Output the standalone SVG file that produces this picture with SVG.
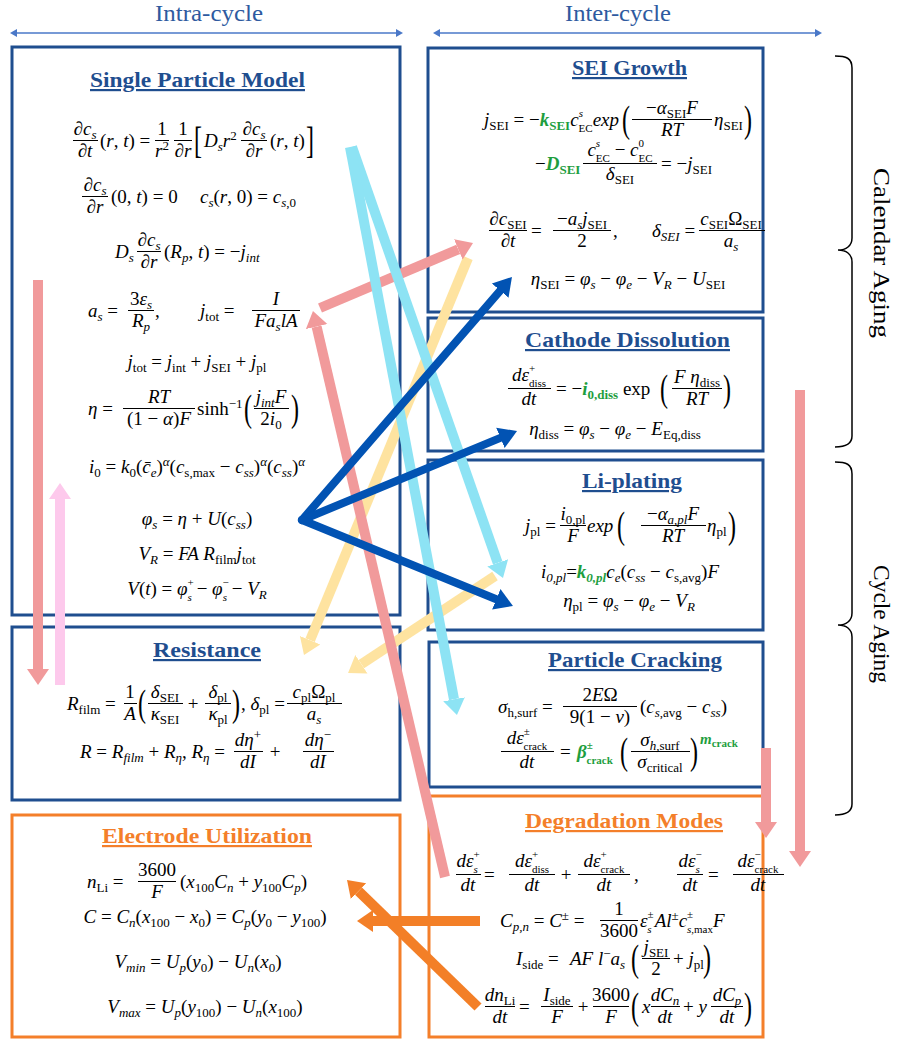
<svg xmlns="http://www.w3.org/2000/svg" width="905" height="1040" viewBox="0 0 905 1040">
<defs>
<style>
.bx{fill:#fff;stroke:#1f4e8f;stroke-width:3}
.ob{fill:#fff;stroke:#f47f2a;stroke-width:3}
.tt{font-family:"Liberation Serif","Times New Roman",serif;font-weight:bold;font-size:22px;fill:#1f4e8f;text-decoration:underline}
.to{fill:#f47f2a}
.e{font-family:"Liberation Serif","Times New Roman",serif;font-size:19px;fill:#000}
.i{font-style:italic}
.n{font-style:normal}
.b{font-size:13px;baseline-shift:-4px}
.p{font-size:13px;baseline-shift:7px}
.bs{font-size:11px;baseline-shift:-6px}
.ps{font-size:11px;baseline-shift:9px}
.g{fill:#1e9e3e;font-weight:bold}
.c{text-anchor:middle}
.fb{stroke:#000;stroke-width:1}
.pr{font-size:24px}
.hd{font-family:"Liberation Serif","Times New Roman",serif;font-size:24px;fill:#2e5aa0}
.ag{font-family:"Liberation Serif","Times New Roman",serif;font-size:24px;fill:#000}
.br{fill:none;stroke:#000;stroke-width:1.5}
.hl{stroke:#4a78c8;stroke-width:1.3}
.ar{fill:none;stroke-width:10}
</style>
<marker id="mh" markerUnits="userSpaceOnUse" markerWidth="8" markerHeight="8" refX="0" refY="4" orient="auto-start-reverse"><path d="M0,0 L7,4 L0,8z" fill="#4a78c8"/></marker>
<marker id="mr" markerUnits="userSpaceOnUse" markerWidth="17" markerHeight="24" refX="0" refY="12" orient="auto"><path d="M0,1 L16,12 L0,23z" fill="#f19a9b"/></marker>
<marker id="mp" markerUnits="userSpaceOnUse" markerWidth="17" markerHeight="24" refX="0" refY="12" orient="auto"><path d="M0,1 L16,12 L0,23z" fill="#fdc9ec"/></marker>
<marker id="mc" markerUnits="userSpaceOnUse" markerWidth="17" markerHeight="24" refX="0" refY="12" orient="auto"><path d="M0,1 L16,12 L0,23z" fill="#8de3f4"/></marker>
<marker id="my" markerUnits="userSpaceOnUse" markerWidth="17" markerHeight="24" refX="0" refY="12" orient="auto"><path d="M0,1 L16,12 L0,23z" fill="#fee3a0"/></marker>
<marker id="mb" markerUnits="userSpaceOnUse" markerWidth="19" markerHeight="24" refX="0" refY="12" orient="auto"><path d="M0,1 L18,12 L0,23z" fill="#0253b3"/></marker>
<marker id="mo" markerUnits="userSpaceOnUse" markerWidth="17" markerHeight="24" refX="0" refY="12" orient="auto"><path d="M0,1 L16,12 L0,23z" fill="#f37f27"/></marker>
</defs>
<rect width="905" height="1040" fill="#fff"/>

<g id="header">
<text class="hd" x="155" y="21" textLength="108" lengthAdjust="spacingAndGlyphs">Intra-cycle</text>
<line class="hl" x1="17" y1="33" x2="396" y2="33" marker-start="url(#mh)" marker-end="url(#mh)"/>
<text class="hd" x="565" y="21" textLength="106" lengthAdjust="spacingAndGlyphs">Inter-cycle</text>
<line class="hl" x1="440" y1="33" x2="815" y2="33" marker-start="url(#mh)" marker-end="url(#mh)"/>
</g>

<g id="braces">
<path class="br" d="M835,56 C846,56 852,58 852,68 L852,238 C852,246 846,250 838,250 C846,250 852,254 852,262 L852,436 C852,444 846,447 835,447"/>
<text class="ag" transform="translate(874,253) rotate(90)" x="-85" y="0" textLength="170" lengthAdjust="spacingAndGlyphs">Calendar Aging</text>
<path class="br" d="M835,462 C846,462 852,464 852,474 L852,613 C852,621 846,625 838,625 C846,625 852,629 852,637 L852,804 C852,812 846,815 835,815"/>
<text class="ag" transform="translate(874,624) rotate(90)" x="-59" y="0" textLength="118" lengthAdjust="spacingAndGlyphs">Cycle Aging</text>
</g>

<g id="spm">
<rect class="bx" x="12" y="47" width="388" height="568"/>
<text class="tt" x="90" y="87" textLength="215" lengthAdjust="spacingAndGlyphs">Single Particle Model</text>
<text class="e i c" x="85" y="135">∂c<tspan class="b">s</tspan></text>
<line class="fb" x1="73" y1="140.5" x2="98" y2="140.5"/>
<text class="e i c" x="85" y="157">∂t</text>
<text class="e" x="100" y="147">(<tspan class="i">r</tspan>, <tspan class="i">t</tspan>) =</text>
<text class="e c" x="162" y="135">1</text>
<line class="fb" x1="155" y1="140.5" x2="169" y2="140.5"/>
<text class="e i c" x="162" y="157">r<tspan class="p n">2</tspan></text>
<text class="e c" x="183" y="135">1</text>
<line class="fb" x1="174" y1="140.5" x2="192" y2="140.5"/>
<text class="e i c" x="183" y="157">∂r</text>
<text class="e pr" transform="translate(194,147) scale(1,1.55)" y="4">[</text>
<text class="e" x="204" y="147"><tspan class="i">D</tspan><tspan class="b i">s</tspan><tspan class="i">r</tspan><tspan class="p">2</tspan></text>
<text class="e i c" x="254" y="135">∂c<tspan class="b">s</tspan></text>
<line class="fb" x1="241" y1="140.5" x2="267" y2="140.5"/>
<text class="e i c" x="254" y="157">∂r</text>
<text class="e" x="270" y="147">(<tspan class="i">r</tspan>, <tspan class="i">t</tspan>)</text>
<text class="e pr" transform="translate(306,147) scale(1,1.55)" y="4">]</text>

<text class="e i c" x="95" y="191">∂c<tspan class="b">s</tspan></text>
<line class="fb" x1="82" y1="196.5" x2="108" y2="196.5"/>
<text class="e i c" x="95" y="213">∂r</text>
<text class="e" x="111" y="203">(0, <tspan class="i">t</tspan>) = 0</text>
<text class="e" x="200" y="203"><tspan class="i">c</tspan><tspan class="b i">s</tspan>(<tspan class="i">r</tspan>, 0) = <tspan class="i">c</tspan><tspan class="b i">s</tspan><tspan class="b">,0</tspan></text>

<text class="e" x="115" y="258"><tspan class="i">D</tspan><tspan class="b i">s</tspan></text>
<text class="e i c" x="149" y="246">∂c<tspan class="b">s</tspan></text>
<line class="fb" x1="137" y1="251.5" x2="161" y2="251.5"/>
<text class="e i c" x="149" y="268">∂r</text>
<text class="e" x="164" y="258">(<tspan class="i">R</tspan><tspan class="b i">p</tspan>, <tspan class="i">t</tspan>) = −<tspan class="i">j</tspan><tspan class="b i">int</tspan></text>

<text class="e" x="88" y="317"><tspan class="i">a</tspan><tspan class="b i">s</tspan> =</text>
<text class="e c" x="141" y="305">3<tspan class="i">ε</tspan><tspan class="b i">s</tspan></text>
<line class="fb" x1="128" y1="310.5" x2="154" y2="310.5"/>
<text class="e i c" x="141" y="327">R<tspan class="b">p</tspan></text>
<text class="e" x="155" y="317">,</text>
<text class="e" x="200" y="317"><tspan class="i">j</tspan><tspan class="b">tot</tspan> =</text>
<text class="e i c" x="276" y="305">I</text>
<line class="fb" x1="252" y1="310.5" x2="300" y2="310.5"/>
<text class="e i c" x="276" y="327">Fa<tspan class="b">s</tspan>lA</text>

<text class="e c" x="197" y="368"><tspan class="i">j</tspan><tspan class="b">tot</tspan> = <tspan class="i">j</tspan><tspan class="b">int</tspan> + <tspan class="i">j</tspan><tspan class="b">SEI</tspan> + <tspan class="i">j</tspan><tspan class="b">pl</tspan></text>

<text class="e" x="88" y="415"><tspan class="i">η</tspan> =</text>
<text class="e i c" x="159" y="403">RT</text>
<line class="fb" x1="123" y1="408.5" x2="195" y2="408.5"/>
<text class="e c" x="159" y="425">(1 − <tspan class="i">α</tspan>)<tspan class="i">F</tspan></text>
<text class="e" x="197" y="415">sinh<tspan class="p">−1</tspan></text>
<text class="e pr" transform="translate(244,415) scale(1,1.55)" y="4">(</text>
<text class="e i c" x="271" y="403">j<tspan class="b">int</tspan>F</text>
<line class="fb" x1="254" y1="408.5" x2="289" y2="408.5"/>
<text class="e c" x="271" y="425">2<tspan class="i">i</tspan><tspan class="b">0</tspan></text>
<text class="e pr" transform="translate(291,415) scale(1,1.55)" y="4">)</text>

<text class="e c" x="197" y="473"><tspan class="i">i</tspan><tspan class="b">0</tspan> = <tspan class="i">k</tspan><tspan class="b">0</tspan>(<tspan class="i">c̄</tspan><tspan class="b i">e</tspan>)<tspan class="p i">α</tspan>(<tspan class="i">c</tspan><tspan class="b">s,max</tspan> − <tspan class="i">c</tspan><tspan class="b i">ss</tspan>)<tspan class="p i">α</tspan>(<tspan class="i">c</tspan><tspan class="b i">ss</tspan>)<tspan class="p i">α</tspan></text>
<text class="e c" x="197" y="525"><tspan class="i">φ</tspan><tspan class="b i">s</tspan> = <tspan class="i">η</tspan> + <tspan class="i">U</tspan>(<tspan class="i">c</tspan><tspan class="b i">ss</tspan>)</text>
<text class="e c" x="197" y="560"><tspan class="i">V</tspan><tspan class="b i">R</tspan> = <tspan class="i">FA R</tspan><tspan class="b">film</tspan><tspan class="i">j</tspan><tspan class="b">tot</tspan></text>
<text class="e c" x="197" y="595"><tspan class="i">V</tspan>(<tspan class="i">t</tspan>) = <tspan class="i">φ</tspan><tspan class="ps">+</tspan><tspan class="bs i" dx="-6.2">s</tspan> − <tspan class="i">φ</tspan><tspan class="ps">−</tspan><tspan class="bs i" dx="-6.2">s</tspan> − <tspan class="i">V</tspan><tspan class="b i">R</tspan></text>
</g>

<g id="resistance">
<rect class="bx" x="12" y="627" width="388" height="173"/>
<text class="tt" x="153" y="657" textLength="108" lengthAdjust="spacingAndGlyphs">Resistance</text>
<text class="e" x="67" y="710"><tspan class="i">R</tspan><tspan class="b">film</tspan> =</text>
<text class="e c" x="130" y="698">1</text>
<line class="fb" x1="124" y1="703.5" x2="137" y2="703.5"/>
<text class="e i c" x="130" y="720">A</text>
<text class="e pr" transform="translate(138,710) scale(1,1.55)" y="4">(</text>
<text class="e c" x="165" y="698"><tspan class="i">δ</tspan><tspan class="b">SEI</tspan></text>
<line class="fb" x1="148" y1="703.5" x2="183" y2="703.5"/>
<text class="e c" x="165" y="720"><tspan class="i">κ</tspan><tspan class="b">SEI</tspan></text>
<text class="e c" x="193" y="710">+</text>
<text class="e c" x="218" y="698"><tspan class="i">δ</tspan><tspan class="b">pl</tspan></text>
<line class="fb" x1="205" y1="703.5" x2="231" y2="703.5"/>
<text class="e c" x="218" y="720"><tspan class="i">κ</tspan><tspan class="b">pl</tspan></text>
<text class="e pr" transform="translate(232,710) scale(1,1.55)" y="4">)</text>
<text class="e" x="241" y="710">, <tspan class="i">δ</tspan><tspan class="b">pl</tspan> =</text>
<text class="e c" x="314" y="698"><tspan class="i">c</tspan><tspan class="b">pl</tspan>Ω<tspan class="b">pl</tspan></text>
<line class="fb" x1="287" y1="703.5" x2="342" y2="703.5"/>
<text class="e i c" x="314" y="720">a<tspan class="b">s</tspan></text>

<text class="e" x="80" y="758"><tspan class="i">R</tspan> =  <tspan class="i">R</tspan><tspan class="b i">film</tspan> + <tspan class="i">R</tspan><tspan class="b i">η</tspan>, <tspan class="i">R</tspan><tspan class="b i">η</tspan> =</text>
<text class="e i c" x="248" y="746">dη<tspan class="p n">+</tspan></text>
<line class="fb" x1="234" y1="751.5" x2="263" y2="751.5"/>
<text class="e i c" x="248" y="768">dI</text>
<text class="e c" x="275" y="758">+</text>
<text class="e i c" x="318" y="746">dη<tspan class="p n">−</tspan></text>
<line class="fb" x1="303" y1="751.5" x2="334" y2="751.5"/>
<text class="e i c" x="318" y="768">dI</text>
</g>

<g id="electrode">
<rect class="ob" x="12" y="815" width="388" height="222"/>
<text class="tt to" x="102" y="843" textLength="210" lengthAdjust="spacingAndGlyphs">Electrode Utilization</text>
<text class="e" x="87" y="888"><tspan class="i">n</tspan><tspan class="b">Li</tspan> =</text>
<text class="e c" x="157" y="876">3600</text>
<line class="fb" x1="138" y1="881.5" x2="176" y2="881.5"/>
<text class="e i c" x="157" y="898">F</text>
<text class="e" x="180" y="888">(<tspan class="i">x</tspan><tspan class="b">100</tspan><tspan class="i">C</tspan><tspan class="b i">n</tspan> + <tspan class="i">y</tspan><tspan class="b">100</tspan><tspan class="i">C</tspan><tspan class="b i">p</tspan>)</text>
<text class="e c" x="205" y="923"><tspan class="i">C</tspan> = <tspan class="i">C</tspan><tspan class="b i">n</tspan>(<tspan class="i">x</tspan><tspan class="b">100</tspan> − <tspan class="i">x</tspan><tspan class="b">0</tspan>) = <tspan class="i">C</tspan><tspan class="b i">p</tspan>(<tspan class="i">y</tspan><tspan class="b">0</tspan> − <tspan class="i">y</tspan><tspan class="b">100</tspan>)</text>
<text class="e c" x="198" y="968"><tspan class="i">V</tspan><tspan class="b i">min</tspan> = <tspan class="i">U</tspan><tspan class="b i">p</tspan>(<tspan class="i">y</tspan><tspan class="b">0</tspan>) − <tspan class="i">U</tspan><tspan class="b i">n</tspan>(<tspan class="i">x</tspan><tspan class="b">0</tspan>)</text>
<text class="e c" x="205" y="1013"><tspan class="i">V</tspan><tspan class="b i">max</tspan> = <tspan class="i">U</tspan><tspan class="b i">p</tspan>(<tspan class="i">y</tspan><tspan class="b">100</tspan>) − <tspan class="i">U</tspan><tspan class="b i">n</tspan>(<tspan class="i">x</tspan><tspan class="b">100</tspan>)</text>
</g>

<g id="sei">
<rect class="bx" x="428" y="48" width="335" height="264"/>
<text class="tt" x="572" y="75" textLength="115" lengthAdjust="spacingAndGlyphs">SEI Growth</text>
<text class="e" x="484" y="126"><tspan class="i">j</tspan><tspan class="b">SEI</tspan> = −<tspan class="g i">k</tspan><tspan class="g b">SEI</tspan><tspan class="i">c</tspan><tspan class="ps i">s</tspan><tspan class="bs" dx="-4.3">EC</tspan><tspan class="i">exp</tspan></text>
<text class="e pr" transform="translate(622,126) scale(1,1.55)" y="4">(</text>
<text class="e c" x="672" y="114">−<tspan class="i">α</tspan><tspan class="b">SEI</tspan><tspan class="i">F</tspan></text>
<line class="fb" x1="632" y1="119.5" x2="712" y2="119.5"/>
<text class="e i c" x="672" y="136">RT</text>
<text class="e" x="714" y="126"><tspan class="i">η</tspan><tspan class="b">SEI</tspan></text>
<text class="e pr" transform="translate(744,126) scale(1,1.55)" y="4">)</text>

<text class="e" x="535" y="170">−<tspan class="g i">D</tspan><tspan class="g b">SEI</tspan></text>
<text class="e c" x="620" y="156"><tspan class="i">c</tspan><tspan class="ps i">s</tspan><tspan class="bs" dx="-4.3">EC</tspan> − <tspan class="i">c</tspan><tspan class="ps">0</tspan><tspan class="bs" dx="-5.5">EC</tspan></text>
<line class="fb" x1="583" y1="163.5" x2="657" y2="163.5"/>
<text class="e c" x="620" y="180"><tspan class="i">δ</tspan><tspan class="b">SEI</tspan></text>
<text class="e" x="661" y="170">= −<tspan class="i">j</tspan><tspan class="b">SEI</tspan></text>

<text class="e i c" x="508" y="225">∂c<tspan class="b n">SEI</tspan></text>
<line class="fb" x1="489" y1="230.5" x2="527" y2="230.5"/>
<text class="e i c" x="508" y="247">∂t</text>
<text class="e" x="531" y="237">=</text>
<text class="e c" x="582" y="225">−<tspan class="i">a</tspan><tspan class="b i">s</tspan><tspan class="i">j</tspan><tspan class="b">SEI</tspan></text>
<line class="fb" x1="553" y1="230.5" x2="611" y2="230.5"/>
<text class="e c" x="582" y="247">2</text>
<text class="e" x="613" y="237">,</text>
<text class="e" x="652" y="237"><tspan class="i">δ</tspan><tspan class="b i">SEI</tspan> =</text>
<text class="e c" x="731" y="225"><tspan class="i">c</tspan><tspan class="b">SEI</tspan>Ω<tspan class="b">SEI</tspan></text>
<line class="fb" x1="699" y1="230.5" x2="765" y2="230.5"/>
<text class="e i c" x="731" y="247">a<tspan class="b">s</tspan></text>

<text class="e c" x="628" y="285"><tspan class="i">η</tspan><tspan class="b">SEI</tspan> = <tspan class="i">φ</tspan><tspan class="b i">s</tspan> − <tspan class="i">φ</tspan><tspan class="b i">e</tspan> − <tspan class="i">V</tspan><tspan class="b i">R</tspan> − <tspan class="i">U</tspan><tspan class="b">SEI</tspan></text>
</g>

<g id="cathode">
<rect class="bx" x="428" y="318" width="335" height="133"/>
<text class="tt" x="525" y="347" textLength="205" lengthAdjust="spacingAndGlyphs">Cathode Dissolution</text>
<text class="e i c" x="529" y="381">dε<tspan class="ps n">+</tspan><tspan class="bs n" dx="-6.2">diss</tspan></text>
<line class="fb" x1="508" y1="388.5" x2="551" y2="388.5"/>
<text class="e i c" x="529" y="405">dt</text>
<text class="e" x="556" y="395">= −<tspan class="g i">i</tspan><tspan class="g b">0,diss</tspan> exp</text>
<text class="e pr" transform="translate(660,395) scale(1,1.55)" y="4">(</text>
<text class="e c" x="697" y="383"><tspan class="i">F</tspan> <tspan class="i">η</tspan><tspan class="b">diss</tspan></text>
<line class="fb" x1="672" y1="388.5" x2="722" y2="388.5"/>
<text class="e i c" x="697" y="405">RT</text>
<text class="e pr" transform="translate(723,395) scale(1,1.55)" y="4">)</text>
<text class="e c" x="615" y="435"><tspan class="i">η</tspan><tspan class="b">diss</tspan> = <tspan class="i">φ</tspan><tspan class="b i">s</tspan> − <tspan class="i">φ</tspan><tspan class="b i">e</tspan> − <tspan class="i">E</tspan><tspan class="b">Eq,diss</tspan></text>
</g>

<g id="liplating">
<rect class="bx" x="428" y="460" width="335" height="170"/>
<text class="tt" x="582" y="488" textLength="100" lengthAdjust="spacingAndGlyphs">Li-plating</text>
<text class="e" x="525" y="532"><tspan class="i">j</tspan><tspan class="b">pl</tspan> =</text>
<text class="e c" x="573" y="520"><tspan class="i">i</tspan><tspan class="b">0,pl</tspan></text>
<line class="fb" x1="560" y1="525.5" x2="586" y2="525.5"/>
<text class="e i c" x="573" y="542">F</text>
<text class="e i" x="587" y="532">exp</text>
<text class="e pr" transform="translate(617,532) scale(1,1.55)" y="4">(</text>
<text class="e c" x="673" y="520">−<tspan class="i">α</tspan><tspan class="b i">a,pl</tspan><tspan class="i">F</tspan></text>
<line class="fb" x1="641" y1="525.5" x2="706" y2="525.5"/>
<text class="e i c" x="673" y="542">RT</text>
<text class="e" x="707" y="532"><tspan class="i">η</tspan><tspan class="b">pl</tspan></text>
<text class="e pr" transform="translate(728,532) scale(1,1.55)" y="4">)</text>
<text class="e c" x="630" y="578"><tspan class="i">i</tspan><tspan class="b i">0,pl</tspan>=<tspan class="g i">k</tspan><tspan class="g b i">0,pl</tspan><tspan class="i">c</tspan><tspan class="b i">e</tspan>(<tspan class="i">c</tspan><tspan class="b i">ss</tspan> − <tspan class="i">c</tspan><tspan class="b">s,avg</tspan>)<tspan class="i">F</tspan></text>
<text class="e c" x="629" y="607"><tspan class="i">η</tspan><tspan class="b">pl</tspan> = <tspan class="i">φ</tspan><tspan class="b i">s</tspan> − <tspan class="i">φ</tspan><tspan class="b i">e</tspan> − <tspan class="i">V</tspan><tspan class="b i">R</tspan></text>
</g>

<g id="cracking">
<rect class="bx" x="429" y="642" width="334" height="145"/>
<text class="tt" x="548" y="667" textLength="174" lengthAdjust="spacingAndGlyphs">Particle Cracking</text>
<text class="e" x="498" y="713"><tspan class="i">σ</tspan><tspan class="b">h,surf</tspan> =</text>
<text class="e c" x="600" y="701">2<tspan class="i">E</tspan>Ω</text>
<line class="fb" x1="563" y1="706.5" x2="637" y2="706.5"/>
<text class="e c" x="600" y="723">9(1 − <tspan class="i">ν</tspan>)</text>
<text class="e" x="640" y="713">(<tspan class="i">c</tspan><tspan class="b i">s</tspan><tspan class="b">,avg</tspan> − <tspan class="i">c</tspan><tspan class="b i">ss</tspan>)</text>
<text class="e i c" x="527" y="744">dε<tspan class="ps n">±</tspan><tspan class="bs n" dx="-6.2">crack</tspan></text>
<line class="fb" x1="501" y1="751.5" x2="554" y2="751.5"/>
<text class="e i c" x="527" y="768">dt</text>
<text class="e" x="560" y="758">=</text>
<text class="e" x="577" y="758"><tspan class="g i">β</tspan><tspan class="g ps">±</tspan><tspan class="g bs" dx="-6.2">crack</tspan></text>
<text class="e pr" transform="translate(620,758) scale(1,1.55)" y="4">(</text>
<text class="e c" x="660" y="746"><tspan class="i">σ</tspan><tspan class="b i">h,</tspan><tspan class="b">surf</tspan></text>
<line class="fb" x1="631" y1="751.5" x2="690" y2="751.5"/>
<text class="e c" x="660" y="768"><tspan class="i">σ</tspan><tspan class="b">critical</tspan></text>
<text class="e pr" transform="translate(690,758) scale(1,1.55)" y="4">)</text>
<text class="e" x="700" y="744"><tspan class="g i" style="font-size:15px">m</tspan><tspan class="g" style="font-size:11px;baseline-shift:-3px">crack</tspan></text>
</g>

<g id="degradation">
<rect class="ob" x="429" y="796" width="334" height="241"/>
<text class="tt to" x="525" y="828" textLength="198" lengthAdjust="spacingAndGlyphs">Degradation Modes</text>
<text class="e i c" x="468" y="867">dε<tspan class="ps n">+</tspan><tspan class="bs" dx="-6.2">s</tspan></text>
<line class="fb" x1="456" y1="874.5" x2="481" y2="874.5"/>
<text class="e i c" x="468" y="891">dt</text>
<text class="e" x="484" y="881">=</text>
<text class="e i c" x="532" y="867">dε<tspan class="ps n">+</tspan><tspan class="bs n" dx="-6.2">diss</tspan></text>
<line class="fb" x1="509" y1="874.5" x2="555" y2="874.5"/>
<text class="e i c" x="532" y="891">dt</text>
<text class="e c" x="566" y="881">+</text>
<text class="e i c" x="604" y="867">dε<tspan class="ps n">+</tspan><tspan class="bs n" dx="-6.2">crack</tspan></text>
<line class="fb" x1="578" y1="874.5" x2="630" y2="874.5"/>
<text class="e i c" x="604" y="891">dt</text>
<text class="e" x="634" y="881">,</text>
<text class="e i c" x="690" y="867">dε<tspan class="ps n">−</tspan><tspan class="bs" dx="-6.2">s</tspan></text>
<line class="fb" x1="677" y1="874.5" x2="703" y2="874.5"/>
<text class="e i c" x="690" y="891">dt</text>
<text class="e" x="708" y="881">=</text>
<text class="e i c" x="758" y="867">dε<tspan class="ps n">−</tspan><tspan class="bs n" dx="-6.2">crack</tspan></text>
<line class="fb" x1="733" y1="874.5" x2="784" y2="874.5"/>
<text class="e i c" x="758" y="891">dt</text>

<text class="e" x="500" y="927"><tspan class="i">C</tspan><tspan class="b i">p,n</tspan> = <tspan class="i">C</tspan><tspan class="p">±</tspan> =</text>
<text class="e c" x="619" y="915">1</text>
<line class="fb" x1="600" y1="920.5" x2="638" y2="920.5"/>
<text class="e c" x="619" y="937">3600</text>
<text class="e" x="640" y="927"><tspan class="i">ε</tspan><tspan class="ps">±</tspan><tspan class="bs i" dx="-6.2">s</tspan><tspan class="i" dx="3">Al</tspan><tspan class="p">±</tspan><tspan class="i">c</tspan><tspan class="ps">±</tspan><tspan class="bs i" dx="-6.2">s</tspan><tspan class="bs">,max</tspan><tspan class="i">F</tspan></text>

<text class="e" x="516" y="965"><tspan class="i">I</tspan><tspan class="b">side</tspan> =</text>
<text class="e i" x="570" y="965">AF l<tspan class="p n">−</tspan>a<tspan class="b">s</tspan></text>
<text class="e pr" transform="translate(631,965) scale(1,1.55)" y="4">(</text>
<text class="e i c" x="656" y="953">j<tspan class="b n">SEI</tspan></text>
<line class="fb" x1="642" y1="958.5" x2="670" y2="958.5"/>
<text class="e c" x="656" y="975">2</text>
<text class="e" x="673" y="965">+ <tspan class="i">j</tspan><tspan class="b">pl</tspan></text>
<text class="e pr" transform="translate(703,965) scale(1,1.55)" y="4">)</text>

<text class="e i c" x="500" y="1001">dn<tspan class="b n">Li</tspan></text>
<line class="fb" x1="485" y1="1006.5" x2="515" y2="1006.5"/>
<text class="e i c" x="500" y="1023">dt</text>
<text class="e" x="519" y="1013">=</text>
<text class="e c" x="557" y="1001"><tspan class="i">I</tspan><tspan class="b">side</tspan></text>
<line class="fb" x1="541" y1="1006.5" x2="573" y2="1006.5"/>
<text class="e i c" x="557" y="1023">F</text>
<text class="e c" x="583" y="1013">+</text>
<text class="e c" x="611" y="1001">3600</text>
<line class="fb" x1="593" y1="1006.5" x2="629" y2="1006.5"/>
<text class="e i c" x="611" y="1023">F</text>
<text class="e pr" transform="translate(631,1013) scale(1,1.55)" y="4">(</text>
<text class="e i" x="642" y="1013">x</text>
<text class="e i c" x="665" y="1001">dC<tspan class="b">n</tspan></text>
<line class="fb" x1="651" y1="1006.5" x2="680" y2="1006.5"/>
<text class="e i c" x="665" y="1023">dt</text>
<text class="e" x="683" y="1013">+ <tspan class="i">y</tspan></text>
<text class="e i c" x="727" y="1001">dC<tspan class="b">p</tspan></text>
<line class="fb" x1="711" y1="1006.5" x2="743" y2="1006.5"/>
<text class="e i c" x="727" y="1023">dt</text>
<text class="e pr" transform="translate(744,1013) scale(1,1.55)" y="4">)</text>
</g>

<g id="connectors">
<line class="ar" stroke="#fee3a0" x1="468" y1="258" x2="310.1" y2="640.2" marker-end="url(#my)"/>
<line class="ar" stroke="#fee3a0" x1="495" y1="576" x2="361.4" y2="664.2" marker-end="url(#my)"/>
<line class="ar" stroke="#f19a9b" x1="445" y1="877" x2="316.6" y2="326.6" marker-end="url(#mr)"/>
<line class="ar" stroke="#f19a9b" x1="320" y1="308" x2="458.3" y2="249.3" marker-end="url(#mr)"/>
<line class="ar" stroke="#f19a9b" x1="800" y1="390" x2="800" y2="851" marker-end="url(#mr)"/>
<line class="ar" stroke="#f19a9b" x1="766" y1="748" x2="766" y2="822" marker-end="url(#mr)"/>
<line class="ar" stroke="#f19a9b" x1="38" y1="280" x2="38" y2="669" marker-end="url(#mr)"/>
<line class="ar" stroke="#fdc9ec" x1="60" y1="685" x2="60" y2="499" marker-end="url(#mp)"/>
<line class="ar" stroke="#8de3f4" x1="352" y1="147" x2="497.7" y2="562.9" marker-end="url(#mc)"/>
<line class="ar" stroke="#8de3f4" x1="350" y1="147" x2="454" y2="699.3" marker-end="url(#mc)"/>
<line fill="none" stroke="#0253b3" stroke-width="8" stroke-linecap="round" x1="302" y1="520" x2="500.2" y2="290.6" marker-end="url(#mb)"/>
<line fill="none" stroke="#0253b3" stroke-width="8" stroke-linecap="round" x1="302" y1="520" x2="500.4" y2="437.9" marker-end="url(#mb)"/>
<line fill="none" stroke="#0253b3" stroke-width="8" stroke-linecap="round" x1="302" y1="520" x2="496.3" y2="599.2" marker-end="url(#mb)"/>
<line class="ar" stroke="#f37f27" x1="478" y1="1007" x2="358.5" y2="891.1" marker-end="url(#mo)"/>
<line class="ar" stroke="#f37f27" x1="480" y1="921" x2="373" y2="921" marker-end="url(#mo)"/>
</g>
</svg>
